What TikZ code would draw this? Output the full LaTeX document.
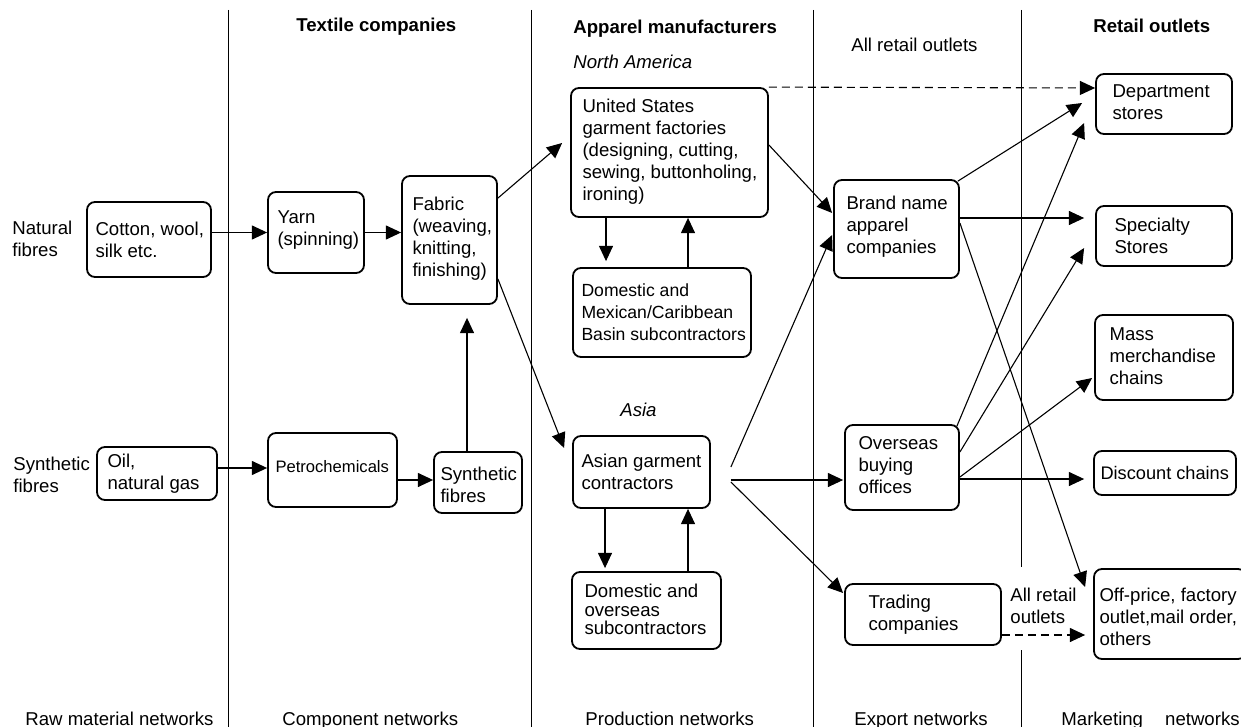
\documentclass[tikz,border=0pt]{standalone}
\usepackage{fontspec}
\setmainfont{Liberation Sans}
\usetikzlibrary{arrows.meta}
\newcommand\fnt{\fontsize{9.3}{11}\selectfont}
\begin{document}
\begin{tikzpicture}[x=0.5pt,y=-0.5pt,
  every node/.style={font=\fnt},
  bx/.style={draw, line width=0.9pt, rounded corners=4pt, inner sep=0pt},
  txt/.style={inner sep=0pt, align=left, anchor=west},
  lbl/.style={inner sep=0pt, anchor=base west},
  arr/.style={line width=0.55pt, -{Triangle[length=7.6pt,width=7pt]}},
  dsh/.style={arr, dash pattern=on 4pt off 2.5pt},
  divider/.style={line width=0.5pt}]
\useasboundingbox (0,0) rectangle (1241,727);

% dividers
\draw[divider] (228,10) -- (228,727);
\draw[divider] (531,10) -- (531,727);
\draw[divider] (813,10) -- (813,727);
\draw[divider] (1021,10) -- (1021,567);
\draw[divider] (1021,650) -- (1021,727);

% headers
\node[lbl, font=\fnt\bfseries] (h1) at (296,32) {Textile companies};
\node[lbl, font=\fnt\bfseries] (h2) at (573,34) {Apparel manufacturers};
\node[lbl] (h3) at (851,52) {All retail outlets};
\node[lbl, font=\fnt\bfseries] (h4) at (1093,33) {Retail outlets};
\node[lbl, font=\fnt\itshape] (na) at (573,69) {North America};
\node[lbl, font=\fnt\itshape] (asia) at (620,416) {Asia};

% left labels
\node[txt] (natural) at (12,239) {Natural\\fibres};
\node[txt] (synthetic) at (13,474.5) {Synthetic\\fibres};

% boxes
\node[bx, minimum width=62pt, minimum height=37.5pt] (cotton) at (149,239.5) {};
\node[txt] (tcotton) at ([shift={(9,0)}]cotton.west) {Cotton, wool,\\silk etc.};

\node[bx, minimum width=48pt, minimum height=40.5pt] (yarn) at (316,232.5) {};
\node[txt] (tyarn) at ([shift={(10,-2)}]yarn.west) {Yarn\\(spinning)};

\node[bx, minimum width=47.5pt, minimum height=64pt] (fabric) at (449.5,240) {};
\node[txt] (tfabric) at ([shift={(11,-1)}]fabric.west) {Fabric\\(weaving,\\knitting,\\finishing)};

\node[bx, minimum width=60pt, minimum height=26.5pt] (oil) at (157,473.5) {};
\node[txt] (toil) at ([shift={(11,0)}]oil.west) {Oil,\\natural gas};

\node[bx, minimum width=64.5pt, minimum height=37pt] (petro) at (332.5,470) {};
\node[txt, font=\fontsize{8.3}{10}\selectfont] (tpetro) at ([shift={(8,-3)}]petro.west) {Petrochemicals};

\node[bx, minimum width=44pt, minimum height=30.5pt] (synth) at (478,482.5) {};
\node[txt] (tsynth) at ([shift={(7,2)}]synth.west) {Synthetic\\fibres};

\node[bx, minimum width=98.5pt, minimum height=64.5pt] (us) at (669.5,152.5) {};
\node[txt] (tus) at ([shift={(12,-1)}]us.west) {United States\\garment factories\\(designing, cutting,\\sewing, buttonholing,\\ironing)};

\node[bx, minimum width=89pt, minimum height=44.5pt] (dom) at (662,312.5) {};
\node[txt, font=\fontsize{8.8}{11}\selectfont] (tdom) at ([shift={(9,0)}]dom.west) {Domestic and\\Mexican/Caribbean\\Basin subcontractors};

\node[bx, minimum width=68.5pt, minimum height=36pt] (asian) at (641.5,472) {};
\node[txt] (tasian) at ([shift={(9,0)}]asian.west) {Asian garment\\contractors};

\node[bx, minimum width=74.5pt, minimum height=38.5pt] (dom2) at (646.5,610.5) {};
\node[txt, font=\fontsize{9.3}{9.4}\selectfont] (tdom2) at ([shift={(13,-1)}]dom2.west) {Domestic and\\overseas\\subcontractors};

\node[bx, minimum width=62.5pt, minimum height=49pt] (brand) at (896.5,229) {};
\node[txt] (tbrand) at ([shift={(13,-2)}]brand.west) {Brand name\\apparel\\companies};

\node[bx, minimum width=57pt, minimum height=42.5pt] (over) at (902,467.5) {};
\node[txt] (tover) at ([shift={(14,-2)}]over.west) {Overseas\\buying\\offices};

\node[bx, minimum width=78pt, minimum height=30.5pt] (trading) at (923,614.5) {};
\node[txt] (ttrading) at ([shift={(24,0)}]trading.west) {Trading\\companies};

\node[txt] (allretail) at (1010,606) {All retail\\outlets};

\node[bx, minimum width=68pt, minimum height=30pt] (dept) at (1164,104) {};
\node[txt] (tdept) at ([shift={(17,-2)}]dept.west) {Department\\stores};

\node[bx, minimum width=68pt, minimum height=30pt] (spec) at (1164,236) {};
\node[txt] (tspec) at ([shift={(19,0)}]spec.west) {Specialty\\Stores};

\node[bx, minimum width=69pt, minimum height=42.5pt] (mass) at (1164,357.5) {};
\node[txt] (tmass) at ([shift={(15,-1)}]mass.west) {Mass\\merchandise\\chains};

\node[bx, minimum width=71pt, minimum height=22pt] (disc) at (1165,473) {};
\node[txt, font=\fontsize{9.1}{11}\selectfont] (tdisc) at ([shift={(7,0)}]disc.west) {Discount chains};

\node[bx, minimum width=76pt, minimum height=45pt] (off) at (1170,614) {};
\node[txt] (toff) at ([shift={(6,3)}]off.west) {Off-price, factory\\outlet,mail order,\\others};

% bottom labels
\node[lbl] (b1) at (25,725) {Raw material networks};
\node[lbl] (b2) at (282,725) {Component networks};
\node[lbl] (b3) at (585,725) {Production networks};
\node[lbl] (b4) at (854,725) {Export networks};
\node[lbl] (b5) at (1061,725) {Marketing};
\node[inner sep=0pt, anchor=base east] (b6) at (1240,725) {networks};

% connectors
\coordinate (pw) at ([shift={(0,-2)}]petro.west);
\coordinate (sw) at ([shift={(0,-2.5)}]synth.west);
\draw[arr] (cotton.east |- yarn.west) -- (yarn.west);
\draw[arr] (yarn.east) -- (yarn.east -| fabric.west);
\draw[arr] ([shift={(0,23)}]fabric.north east) -- ([shift={(-8,-9.5)}]us.west);
\draw[arr] ([shift={(0,-26)}]fabric.south east) -- ([shift={(-8,-24)}]asian.west);
\draw[arr] ([shift={(-11,0)}]synth.north) -- ([shift={(17.5,13)}]fabric.south);
\draw[arr] (oil.east |- pw) -- (pw);
\draw[arr] (petro.east |- sw) -- (sw);

\draw[arr] ([shift={(-63.5,0)}]us.south) -- ([shift={(-56,-6)}]dom.north);
\draw[arr] ([shift={(26,0)}]dom.north) -- ([shift={(18.5,0)}]us.south);
\draw[arr] ([shift={(0,-7.5)}]us.east) -- ([shift={(-1,-16)}]brand.west);
\draw[dsh] (us.north east) -- ([shift={(0,-16)}]dept.west);

\draw[arr] ([shift={(-2,2)}]brand.north east) -- ([shift={(-13,-1)}]dept.west);
\draw[arr] ([shift={(0,-11)}]brand.east) -- ([shift={(-11,-18)}]spec.west);
\draw[arr] ([shift={(0,-6)}]brand.east) -- ([shift={(-8,-27)}]off.west);

\draw[arr] ([shift={(20,-5)}]asian.east) -- ([shift={(-1,6)}]brand.west);
\draw[arr] ([shift={(20,8)}]asian.east) -- ([shift={(-1,12.5)}]over.west);
\draw[arr] ([shift={(20,10)}]asian.east) -- ([shift={(-1,-21.5)}]trading.west);
\draw[arr] ([shift={(-36.5,0)}]asian.south) -- ([shift={(-41.5,-3)}]dom2.north);
\draw[arr] ([shift={(41.5,0)}]dom2.north) -- ([shift={(46.5,0)}]asian.south);

\draw[arr] ([shift={(-3,2)}]over.north east) -- ([shift={(-11,19)}]dept.west);
\draw[arr] ([shift={(0,-15.5)}]over.east) -- ([shift={(-11,12)}]spec.west);
\draw[arr] ([shift={(0,9.5)}]over.east) -- ([shift={(-2,20.5)}]mass.west);
\draw[arr] ([shift={(0,11.5)}]over.east) -- ([shift={(-9,6)}]disc.west);

\draw[dsh] ([shift={(0,20.5)}]trading.east) -- ([shift={(-8,21)}]off.west);
\end{tikzpicture}
\end{document}
